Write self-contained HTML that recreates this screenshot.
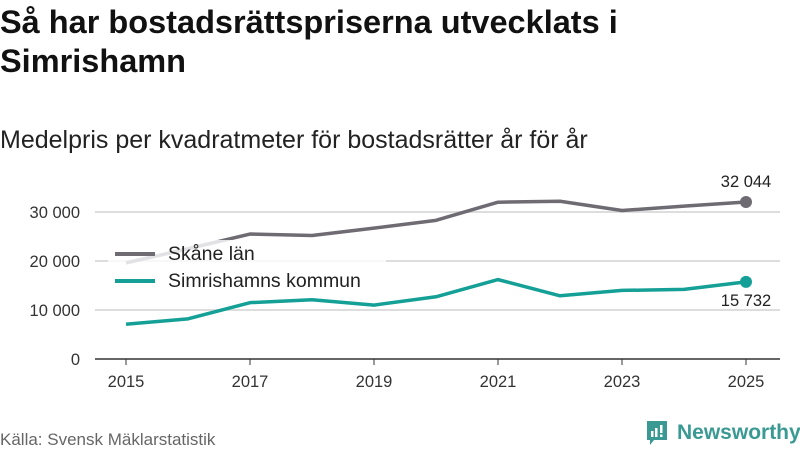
<!DOCTYPE html>
<html><head><meta charset="utf-8"><style>
body{margin:0;width:800px;height:450px;background:#fff;font-family:"Liberation Sans","DejaVu Sans",sans-serif;overflow:hidden;position:relative}
h1{position:absolute;left:0;top:3px;margin:0;font-size:32.5px;line-height:39px;font-weight:bold;color:#111;width:700px}
.sub{position:absolute;left:0;top:126px;font-size:25px;color:#222}
.src{position:absolute;left:0;top:430px;font-size:17px;color:#666}
.logo{position:absolute;left:645px;top:420px;display:flex;align-items:center;gap:8px;color:#3a9a93;font-size:21px;font-weight:bold}
</style></head><body>
<h1>Så har bostadsrättspriserna utvecklats i Simrishamn</h1>
<div class="sub">Medelpris per kvadratmeter för bostadsrätter år för år</div>
<svg id="chart" width="800" height="450" style="position:absolute;left:0;top:0"></svg>
<div class="src">Källa: Svensk Mäklarstatistik</div>
<div class="logo"><svg width="24" height="26" viewBox="0 0 24 26"><path d="M2 1h20v19H9l-4 5v-5H2z" fill="#3a9a93"/><rect x="6" y="11" width="2.5" height="6" fill="#fff"/><rect x="10" y="8" width="2.5" height="9" fill="#fff"/><rect x="15" y="5" width="2.5" height="8" fill="#fff"/><rect x="15" y="14.5" width="2.5" height="2.5" fill="#fff"/></svg><span>Newsworthy</span></div>
<script>
const years=[2015,2016,2017,2018,2019,2020,2021,2022,2023,2024,2025];
const skane=[19600,22500,25500,25200,26700,28300,32000,32200,30300,31200,32044];
const simr=[7100,8200,11500,12100,11000,12700,16200,12900,14000,14200,15732];
const yTicks=[0,10000,20000,30000];
const xTicks=[2015,2017,2019,2021,2023,2025];
const NS="http://www.w3.org/2000/svg";
const svg=document.getElementById('chart');
const x=v=>126+(v-2015)*62;
const y=v=>359-v*0.0049;
const fmt=v=>v===0?'0':String(v).replace(/\B(?=(\d{3})+(?!\d))/g,'\u00a0');
function mk(t,a){const e=document.createElementNS(NS,t);for(const k in a)e.setAttribute(k,a[k]);svg.appendChild(e);return e;}
yTicks.forEach(v=>{
 const l=mk('line',{x1:95,x2:780,y1:y(v),y2:y(v),stroke:v===0?'#333':'#ddd','stroke-width':v===0?1.5:2});
 
 
 const t=mk('text',{x:80,y:y(v)+6,'text-anchor':'end','font-size':16.5,fill:'#333'});t.textContent=fmt(v);
 
 
});
xTicks.forEach(v=>{
 const l=mk('line',{x1:x(v),x2:x(v),y1:359,y2:365,stroke:'#333'});
 
 
 const t=mk('text',{x:x(v),y:387,'text-anchor':'middle','font-size':16.5,fill:'#333'});t.textContent=v;
 
 
});
function series(d,c,name){
 const p=mk('polyline',{points:d.map((v,i)=>x(years[i])+','+y(v)).join(' '),fill:'none',stroke:c,'stroke-width':3.5,'stroke-linejoin':'round'});
 
 
 const n=d.length-1;
 const dot=mk('circle',{cx:x(years[n]),cy:y(d[n]),r:6,fill:c});
 
 
 return d[n];
}
const a=series(skane,'#6e6b73','skane');
const b=series(simr,'#14a096','simrishamn');
let t=mk('text',{x:746,y:y(a)-15,'text-anchor':'middle','font-size':16.5,fill:'#222'});t.textContent=fmt(a);


t=mk('text',{x:746,y:y(b)+24,'text-anchor':'middle','font-size':16.5,fill:'#222'});t.textContent=fmt(b);


const bg=mk('rect',{x:108,y:240,width:278,height:52,fill:'#fff','fill-opacity':0.8});


[['Skåne län','#6e6b73',254],['Simrishamns kommun','#14a096',281]].forEach(([n,c,yy])=>{
 const l=mk('line',{x1:115,x2:155,y1:yy,y2:yy,stroke:c,'stroke-width':4});
 
 
 const tt=mk('text',{x:168,y:yy+6,'font-size':19.5,fill:'#222'});tt.textContent=n;
 
 
});
</script>
</body></html>
